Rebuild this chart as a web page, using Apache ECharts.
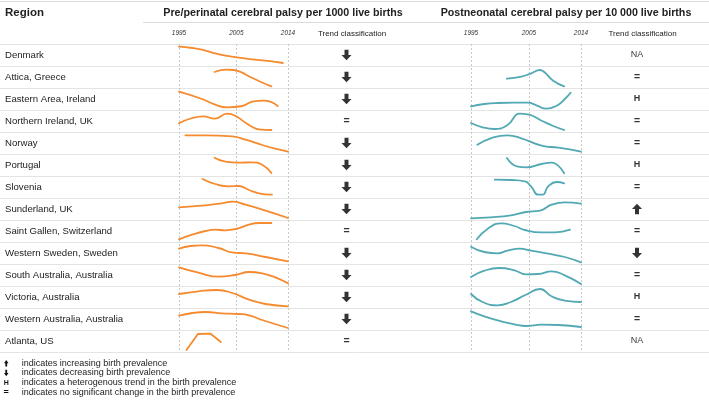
<!DOCTYPE html>
<html>
<head>
<meta charset="utf-8">
<script src="https://cdn.jsdelivr.net/npm/echarts@6/dist/echarts.min.js"></script>
<style>html,body{margin:0;padding:0;background:#fff}#c{width:709px;height:400px}</style>
</head>
<body>
<div id="c"></div>
<script>
// ---------- DATA ----------
const regions = ['Denmark','Attica, Greece','Eastern Area, Ireland','Northern Ireland, UK','Norway','Portugal','Slovenia','Sunderland, UK','Saint Gallen, Switzerland','Western Sweden, Sweden','South Australia, Australia','Victoria, Australia','Western Australia, Australia','Atlanta, US'];
const preTrend  = ['down','down','down','=','down','down','down','down','=','down','down','down','down','='];
const postTrend = ['NA','=','H','=','=','H','=','up','=','down','=','H','=','NA'];
const yearMin = 1995, yearMax = 2014, yearStep = 10;

// Pre/perinatal CP sparklines: [birth year, relative level]
const preDenmark = [[1995,19.3],[1997.3,18],[1999,16.3],[2001.3,12.7],[2003.1,10.3],[2005.4,8.3],[2008.3,6.3],[2011.2,4.7],[2013.1,3]];
const preAttica = [[2001.2,16],[2003.3,18.3],[2004.5,18],[2005.6,16.3],[2007.7,10.3],[2009.5,5.5],[2011.1,1.7]];
const preEastern = [[1995,18.3],[1999,11],[2001.3,5.3],[2003.4,2.7],[2006,4],[2008,8.7],[2009.8,9.3],[2012.2,4]];
const preNIreland = [[1995,8.7],[1997.3,14],[1999.3,15.7],[2001.2,13.3],[2003.4,18.3],[2004.8,16.3],[2007.2,7],[2009.2,2.3],[2011.1,2]];
const preNorway = [[1996.1,18.7],[1999.6,18.7],[2004.3,17.7],[2006.6,14.3],[2009.5,9],[2011.8,5.3],[2014,2.3]];
const prePortugal = [[2001.2,18.3],[2003.1,14.3],[2005.4,13.3],[2007.7,13.7],[2009.5,11.3],[2011.1,3]];
const preSlovenia = [[1999.1,19],[2001.3,14],[2003.7,11.7],[2005.4,12],[2007.2,8],[2008.9,4.7],[2011.2,3.3]];
const preSunderland = [[1995,12.7],[1999.6,14.7],[2002.5,16.7],[2004.3,18.3],[2006.6,15.3],[2010.1,9.3],[2014,2]];
const preStGallen = [[1995,2.7],[1997.3,7.3],[1999.6,11],[2001.3,12.3],[2003.1,11.7],[2004.9,13],[2007.2,17.3],[2008.9,19],[2011.1,19]];
const preWSweden = [[1995,15.3],[1997,18],[1999,18.7],[2001.9,16],[2004.5,11.3],[2006.6,10.7],[2010.1,7],[2014,2.7]];
const preSAustralia = [[1995,18.7],[1998.4,13.3],[2001.9,9.3],[2004.8,11],[2007.2,14],[2009.5,12.7],[2011.8,8.7],[2014,2.7]];
const preVictoria = [[1995,14],[1998.4,16.7],[2001.6,18],[2004.3,15],[2007.2,8.3],[2010.1,4],[2014,1.7]];
const preWAustralia = [[1995,14.3],[1997.3,17],[1999.6,18],[2002.5,16.7],[2005.4,16],[2007.2,14.7],[2009.5,10],[2014,2]];
const preAtlanta = [[1996.3,2],[1998.3,18],[2000.5,18.3],[2002.3,10]];

// Postneonatal CP sparklines
const postDenmark = [];
const postAttica = [[2001.2,9.3],[2003.7,11.3],[2005.4,14.7],[2006.9,18],[2007.7,15.7],[2009.2,7.3],[2011.1,1.7]];
const postEastern = [[1995,3.7],[1997.3,6],[1999.6,7],[2002.5,7.3],[2004.8,7.3],[2006.3,4.7],[2008,1.3],[2009.8,4.3],[2011.2,11],[2012.2,17.3]];
const postNIreland = [[1995,9],[1997,4.7],[1999,3],[2001.3,7],[2003.4,18.3],[2004.8,17.7],[2007.2,11.3],[2009.2,6],[2011.1,2]];
const postNorway = [[1996.1,9.3],[1998.4,15.7],[2001.3,18.7],[2003.7,15.7],[2007.2,8.3],[2010.1,6.3],[2014,2.3]];
const postPortugal = [[2001.2,18],[2003.1,9.3],[2004.5,8.7],[2007.2,12],[2008.9,13.3],[2011.1,2.7]];
const postSlovenia = [[1999.1,18.3],[2001.9,18],[2004.3,16.7],[2005.4,11.3],[2006.6,3.3],[2007.4,3.3],[2008.3,11.3],[2009.8,16],[2011.1,14.7]];
const postSunderland = [[1995,1.7],[1998.4,2.7],[2001.9,4.7],[2004.5,8],[2006.9,9.3],[2008.9,15.3],[2011.2,17.7],[2014,16.3]];
const postStGallen = [[1996,2.7],[1997.9,13.3],[2000.2,18.7],[2002.5,16],[2004.3,12],[2007.2,9.7],[2009.5,9.7],[2012.1,12.3]];
const postWSweden = [[1995,17.3],[1997.3,12],[1999.6,10.7],[2001.3,13.3],[2003.4,15.3],[2005.4,13.3],[2008.3,10.3],[2011.2,7],[2014,1.7]];
const postSAustralia = [[1995,9],[1997.3,15.3],[1999.9,18],[2002.5,15.7],[2004.5,11.7],[2006.6,12],[2008.9,14.7],[2011.2,10.7],[2014,2]];
const postVictoria = [[1995,14],[1997,6],[1999.6,2.7],[2001.9,6],[2004.5,13.3],[2006.9,19],[2008.9,11.7],[2011.2,7.3],[2014,6]];
const postWAustralia = [[1995,18.7],[1997.3,13.7],[2000.2,8.7],[2002.5,5.7],[2004.5,4],[2007.2,5.3],[2010.1,5],[2014,3]];
const postAtlanta = [];

const preList = [preDenmark,preAttica,preEastern,preNIreland,preNorway,prePortugal,preSlovenia,preSunderland,preStGallen,preWSweden,preSAustralia,preVictoria,preWAustralia,preAtlanta];
const postList = [postDenmark,postAttica,postEastern,postNIreland,postNorway,postPortugal,postSlovenia,postSunderland,postStGallen,postWSweden,postSAustralia,postVictoria,postWAustralia,postAtlanta];

const headerPre = 'Pre/perinatal cerebral palsy per 1000 live births';
const headerPost = 'Postneonatal cerebral palsy per 10 000 live births';
const trendHeader = 'Trend classification';
const footnotes = [
  ['up','indicates increasing birth prevalence'],
  ['down','indicates decreasing birth prevalence'],
  ['H','indicates a heterogenous trend in the birth prevalence'],
  ['=','indicates no significant change in the birth prevalence']
];

// ---------- LAYOUT ----------
const FONT = '"Liberation Sans", Arial, Helvetica, sans-serif';
const TOP = 44, ROW = 22, N = regions.length;
const panels = [
  {left:179, width:109, list:preList, color:'#f58a2f', trend:preTrend, tLeft:317, tWidth:59},
  {left:471, width:110, list:postList, color:'#52a9b3', trend:postTrend, tLeft:607, tWidth:60}
];
const ARROW_DOWN = 'path://M3,0L7,0L7,5L10,5L5,10L0,5L3,5Z';
const ARROW_UP = 'path://M5,0L10,5L7,5L7,10L3,10L3,5L0,5Z';
const ARROW_DOWN_PTS = [[3,0],[7,0],[7,5],[10,5],[5,10],[0,5],[3,5]];
const ARROW_UP_PTS = [[5,0],[10,5],[7,5],[7,10],[3,10],[3,5],[0,5]];

const grid = [], xAxis = [], yAxis = [], series = [];
function addGrid(g, xa, ya) {
  const idx = grid.length;
  grid.push(g);
  xa.gridIndex = idx; ya.gridIndex = idx;
  xAxis.push(xa); yAxis.push(ya);
  return idx;
}

// table grid (row labels + row lines)
addGrid({left:0, right:0, top:TOP, height:ROW*N},
  {type:'value', min:0, max:1, show:false},
  {type:'category', data:regions, inverse:true,
   axisLine:{show:false}, axisTick:{show:false},
   axisLabel:{inside:true, margin:5, fontSize:9.6, color:'#222'},
   splitLine:{show:true, lineStyle:{color:'#e4e4e4', width:1}}});

panels.forEach(p => {
  // year axis + dotted gridlines
  addGrid({left:p.left, width:p.width, top:TOP, height:ROW*N},
    {type:'value', min:yearMin, max:yearMax, interval:yearStep, position:'top',
     axisLine:{show:false}, axisTick:{show:false},
     axisLabel:{fontSize:6.5, fontStyle:'italic', color:'#333', margin:7, formatter:v=>String(v), showMinLabel:true, showMaxLabel:true},
     splitLine:{show:true, lineStyle:{type:[2,2], color:'#c8c8c8', width:1}}},
    {type:'value', min:0, max:1, show:false});
  // trend column
  const ti = addGrid({left:p.tLeft, width:p.tWidth, top:TOP, height:ROW*N},
    {type:'category', data:[trendHeader], position:'top',
     axisLine:{show:false}, axisTick:{show:false},
     axisLabel:{fontSize:8, color:'#222', margin:6, padding:[0,0,0,11]}},
    {type:'category', data:regions, inverse:true, show:false});
  series.push({
    type:'scatter', xAxisIndex:ti, yAxisIndex:ti, silent:true,
    data:p.trend.map((t,i) => {
      if (t === 'down' || t === 'up') {
        return {value:[0,i], symbol: t==='down'?ARROW_DOWN:ARROW_UP, symbolSize:[10,10.5], itemStyle:{color:'#000'}};
      }
      return {value:[0,i], symbol:'circle', symbolSize:1, itemStyle:{color:'rgba(0,0,0,0)'},
        label:{show:true, position:'inside', formatter:t, color:'#000',
               fontSize: t==='=' ? 10.5 : 9, fontWeight: t==='NA' ? 'normal' : 'bold'}};
    })
  });
  // sparklines
  p.list.forEach((d,i) => {
    const gi = addGrid({left:p.left, width:p.width, top:TOP+ROW*i, height:ROW},
      {type:'value', min:yearMin, max:yearMax, show:false},
      {type:'value', min:0, max:ROW, show:false});
    if (d.length) {
      series.push({type:'line', xAxisIndex:gi, yAxisIndex:gi, data:d, showSymbol:false, silent:true,
        smooth: d === preAtlanta ? false : 0.5,
        lineStyle:{color:p.color, width:1.8, cap:'round', join:'round'}});
    }
  });
});

// header texts, lines and footnote
const graphic = [
  {type:'line', shape:{x1:0,y1:1.5,x2:709,y2:1.5}, style:{stroke:'#dcdcdc', lineWidth:1}},
  {type:'line', shape:{x1:143,y1:22.5,x2:709,y2:22.5}, style:{stroke:'#dcdcdc', lineWidth:1}},
  {type:'text', x:5, y:13, style:{text:'Region', font:'bold 11.5px '+FONT, fill:'#222', align:'left', verticalAlign:'middle'}},
  {type:'text', x:283, y:13, style:{text:headerPre, font:'bold 10.7px '+FONT, fill:'#222', align:'center', verticalAlign:'middle'}},
  {type:'text', x:566, y:13, style:{text:headerPost, font:'bold 10.7px '+FONT, fill:'#222', align:'center', verticalAlign:'middle'}}
];
footnotes.forEach((f,k) => {
  const yc = 363.3 + k*9.65;
  if (f[0] === 'up' || f[0] === 'down') {
    const pts = (f[0]==='up' ? ARROW_UP_PTS : ARROW_DOWN_PTS).map(q => [4 + q[0]*0.45, yc - 3.2 + q[1]*0.65]);
    graphic.push({type:'polygon', shape:{points:pts}, style:{fill:'#111'}});
  } else {
    graphic.push({type:'text', x:6.2, y:yc, style:{text:f[0], font:'bold '+(f[0]==='='?'9px ':'7px ')+FONT, fill:'#111', align:'center', verticalAlign:'middle'}});
  }
  graphic.push({type:'text', x:21.7, y:yc, style:{text:f[1], font:'9px '+FONT, fill:'#222', align:'left', verticalAlign:'middle'}});
});

const chart = echarts.init(document.getElementById('c'), null, {renderer:'canvas'});
chart.setOption({
  animation:false,
  backgroundColor:'#fff',
  textStyle:{fontFamily:FONT},
  grid, xAxis, yAxis, series, graphic
});
</script>
</body>
</html>
